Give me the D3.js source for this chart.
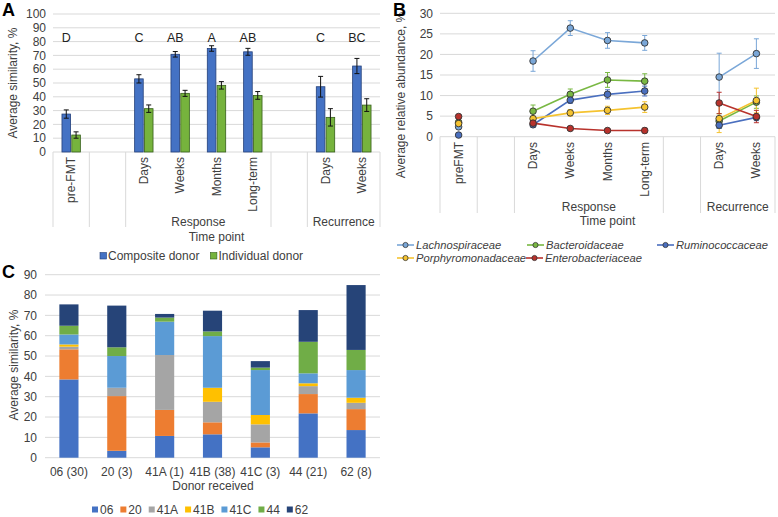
<html lang="en">
<head>
  <meta charset="UTF-8" />
  <title>Donor similarity and taxa abundance</title>
  <style>
    body { margin: 0; background: #fff; }
    text { font-family: "Liberation Sans", Arial, sans-serif; fill: #404040; }
    .grid line { stroke: #d9d9d9; stroke-width: 1; }
    .panel-tag { font-weight: bold; font-size: 18px; fill: #000; }
  </style>
</head>
<body>
  <svg width="778" height="517"></svg>

  <script src="https://d3js.org/d3.v7.min.js"></script>
  <script>
    // ---- panel A: average similarity per time point
    const slotsA = ["pre-FMT", null, "Days", "Weeks", "Months", "Long-term", null, "Days", "Weeks"];
    const groupsA = [{ label: "Response", from: 2, to: 5 }, { label: "Recurrence", from: 7, to: 8 }];
    const composite = [27.5, null, 53, 70.8, 75, 72.6, null, 47.3, 62.3];
    const compositeErr = [3, null, 3, 2, 2, 2.5, null, 7.5, 5.5];
    const individual = [12.3, null, 31.4, 42.5, 48.3, 41, null, 25.1, 34];
    const individualErr = [2.3, null, 2.7, 2.2, 2.7, 2.8, null, 6.3, 4.6];
    const lettersA = ["D", null, "C", "AB", "A", "AB", null, "C", "BC"];
    const ticksA = d3.range(0, 101, 10);

    // ---- panel B: relative abundance of taxa
    const slotsB = ["preFMT", null, "Days", "Weeks", "Months", "Long-term", null, "Days", "Weeks"];
    const taxa = ["Lachnospiraceae", "Bacteroidaceae", "Ruminococcaceae", "Porphyromonadaceae", "Enterobacteriaceae"];
    const lachno = [2.4, null, 18.4, 26.4, 23.4, 22.8, null, 14.5, 20.2];
    const lachnoErr = [0.3, null, 2.5, 1.8, 1.9, 1.8, null, 5.8, 3.6];
    const bactero = [3.5, null, 6.2, 10.3, 13.8, 13.5, null, 3.8, 8.4];
    const bacteroErr = [0.3, null, 1.5, 1.3, 1.8, 1.8, null, 1.8, 1.5];
    const rumino = [0.4, null, 2.9, 8.9, 10.3, 11.1, null, 2.8, 4.7];
    const ruminoErr = [0.2, null, 0.6, 0.8, 1.1, 1.2, null, 0.8, 0.8];
    const porphyro = [3.2, null, 4.4, 5.8, 6.4, 7.2, null, 4.4, 8.8];
    const porphyroErr = [0.4, null, 0.6, 0.8, 1.0, 1.3, null, 3.4, 3.0];
    const entero = [4.9, null, 3.3, 2.0, 1.5, 1.5, null, 8.2, 4.9];
    const enteroErr = [0.3, null, 0.3, 0.3, 0.4, 0.6, null, 2.6, 1.5];
    const ticksB = d3.range(0, 31, 5);

    // ---- panel C: stacked similarity by donor received
    const donors = ["06 (30)", "20 (3)", "41A (1)", "41B (38)", "41C (3)", "44 (21)", "62 (8)"];
    const sources = ["06", "20", "41A", "41B", "41C", "44", "62"];
    const from06 = [38.5, 3.4, 10.7, 11.5, 5.1, 21.8, 13.6];
    const from20 = [14.8, 26.9, 12.8, 5.9, 2.4, 9.5, 10.3];
    const from41A = [1.3, 4.1, 27.0, 10.1, 8.9, 3.9, 3.1];
    const from41B = [1.1, 0, 0, 6.9, 4.6, 1.4, 2.5];
    const from41C = [4.9, 15.6, 16.4, 25.4, 22.1, 4.9, 13.6];
    const from44 = [4.3, 4.3, 2.0, 2.3, 1.2, 15.5, 9.9];
    const from62 = [10.5, 20.5, 1.8, 10.2, 3.2, 15.6, 31.9];
    const ticksC = d3.range(0, 91, 10);

    const svg = d3.select("svg");

    function yGrid(g, y, ticks, x0, x1, labelX) {
      const grid = g.append("g").attr("class", "grid");
      grid.selectAll("line").data(ticks).join("line")
        .attr("x1", x0).attr("x2", x1)
        .attr("y1", d => y(d)).attr("y2", d => y(d));
      g.append("g").selectAll("text").data(ticks).join("text")
        .attr("x", labelX).attr("y", d => y(d)).attr("dy", "0.35em")
        .attr("text-anchor", "end").style("font-size", "12px")
        .text(d => d);
    }

    // multi level category axis like the spreadsheet one
    function catAxis(g, x, slots, groups, yTop, yBot, labelTop, groupY, titleY, title) {
      const bw = x.bandwidth();
      const idx = d3.range(slots.length);
      const edges = idx.filter(i => !groups.some(gr => i > gr.from && i <= gr.to)).map(i => x(i));
      edges.push(x(slots.length - 1) + bw);
      g.append("g").attr("class", "grid").selectAll("line").data(edges).join("line")
        .attr("x1", d => d).attr("x2", d => d).attr("y1", yTop).attr("y2", yBot);
      g.append("g").selectAll("text").data(idx.filter(i => slots[i])).join("text")
        .attr("transform", i => `translate(${x(i) + bw / 2 + 4},${labelTop}) rotate(-90)`)
        .attr("text-anchor", "end").style("font-size", "12px")
        .text(i => slots[i]);
      g.append("g").selectAll("text").data(groups).join("text")
        .attr("x", d => (x(d.from) + x(d.to) + bw) / 2).attr("y", groupY)
        .attr("text-anchor", "middle").style("font-size", "12px")
        .text(d => d.label);
      const r = x.range();
      g.append("text").attr("x", (r[0] + r[1]) / 2).attr("y", titleY)
        .attr("text-anchor", "middle").style("font-size", "12px").text(title);
    }

    function yTitle(g, x, y, label) {
      g.append("text").attr("transform", `translate(${x},${y}) rotate(-90)`)
        .attr("text-anchor", "middle").attr("dy", "0.35em").style("font-size", "12px")
        .text(label);
    }

    function errBars(g, pts, color, cap) {
      const eb = g.append("g").attr("stroke", color).attr("stroke-width", 1);
      pts.forEach(p => {
        eb.append("line").attr("x1", p.x).attr("x2", p.x).attr("y1", p.lo).attr("y2", p.hi);
        eb.append("line").attr("x1", p.x - cap).attr("x2", p.x + cap).attr("y1", p.lo).attr("y2", p.lo);
        eb.append("line").attr("x1", p.x - cap).attr("x2", p.x + cap).attr("y1", p.hi).attr("y2", p.hi);
      });
    }

    // ================= A
    const gA = svg.append("g");
    const xA = d3.scaleBand().domain(d3.range(slotsA.length)).range([53, 380]);
    const yA = d3.scaleLinear().domain([0, 100]).range([152, 14]);
    yGrid(gA, yA, ticksA, 53, 380, 46);
    catAxis(gA, xA, slotsA, groupsA, 152, 227, 157, 226, 241, "Time point");
    yTitle(gA, 13, 83, "Average similarity, %");

    const barW = 8.6, gapA = 1.2;
    const seriesA = [
      { name: "Composite donor", vals: composite, err: compositeErr, fill: "#4472c4", stroke: "#24407a", off: -gapA / 2 - barW },
      { name: "Individual donor", vals: individual, err: individualErr, fill: "#76b33d", stroke: "#365f1a", off: gapA / 2 }
    ];
    seriesA.forEach(s => {
      const idx = d3.range(s.vals.length).filter(i => s.vals[i] != null);
      gA.append("g").selectAll("rect").data(idx).join("rect")
        .attr("x", i => xA(i) + xA.bandwidth() / 2 + s.off)
        .attr("width", barW)
        .attr("y", i => yA(s.vals[i]))
        .attr("height", i => yA(0) - yA(s.vals[i]))
        .attr("fill", s.fill).attr("stroke", s.stroke).attr("stroke-width", 0.8);
      errBars(gA, idx.map(i => ({
        x: xA(i) + xA.bandwidth() / 2 + s.off + barW / 2,
        lo: yA(s.vals[i] - s.err[i]), hi: yA(s.vals[i] + s.err[i])
      })), "#111", 2.5);
    });
    gA.append("g").selectAll("text").data(d3.range(lettersA.length).filter(i => lettersA[i])).join("text")
      .attr("x", i => xA(i) + xA.bandwidth() / 2 + seriesA[0].off + barW / 2)
      .attr("y", 42).attr("text-anchor", "middle").style("font-size", "12.5px")
      .style("fill", "#222").text(i => lettersA[i]);

    // legend A
    let lx = 100;
    seriesA.forEach(s => {
      gA.append("rect").attr("x", lx).attr("y", 252.5).attr("width", 6.5).attr("height", 6.5)
        .attr("fill", s.fill).attr("stroke", s.stroke).attr("stroke-width", 0.6);
      const t = gA.append("text").attr("x", lx + 8).attr("y", 256).attr("dy", "0.35em")
        .style("font-size", "12px").text(s.name);
      lx += 8 + t.node().getComputedTextLength() + 11;
    });
    svg.append("text").attr("class", "panel-tag").attr("x", 2).attr("y", 16).text("A");

    // ================= B
    const gB = svg.append("g");
    const xB = d3.scaleBand().domain(d3.range(slotsB.length)).range([440, 775]);
    const yB = d3.scaleLinear().domain([0, 30]).range([136.7, 13.3]);
    yGrid(gB, yB, ticksB, 440, 775, 433);
    catAxis(gB, xB, slotsB, groupsA, 136.7, 213, 142, 211, 225, "Time point");
    yTitle(gB, 401, 95, "Average relative abundance, %");

    const seriesB = [
      { name: taxa[0], vals: lachno, err: lachnoErr, color: "#7aa7d8" },
      { name: taxa[1], vals: bactero, err: bacteroErr, color: "#79b843" },
      { name: taxa[2], vals: rumino, err: ruminoErr, color: "#4a6fbf" },
      { name: taxa[3], vals: porphyro, err: porphyroErr, color: "#f5c330" },
      { name: taxa[4], vals: entero, err: enteroErr, color: "#b8322c" }
    ];
    const cx = i => xB(i) + xB.bandwidth() / 2;
    const lineB = d3.line().defined(d => d.v != null).x(d => cx(d.i)).y(d => yB(d.v));
    seriesB.forEach(s => {
      const pts = s.vals.map((v, i) => ({ i, v }));
      const idx = d3.range(s.vals.length).filter(i => s.vals[i] != null);
      errBars(gB, idx.map(i => ({ x: cx(i), lo: yB(s.vals[i] - s.err[i]), hi: yB(s.vals[i] + s.err[i]) })), s.color, 2.5);
      gB.append("path").datum(pts).attr("d", lineB)
        .attr("fill", "none").attr("stroke", s.color).attr("stroke-width", 1.6);
    });
    seriesB.forEach(s => {
      const idx = d3.range(s.vals.length).filter(i => s.vals[i] != null);
      gB.append("g").selectAll("circle").data(idx).join("circle")
        .attr("cx", cx).attr("cy", i => yB(s.vals[i])).attr("r", 3.3)
        .attr("fill", s.color).attr("stroke", "#333").attr("stroke-width", 0.9);
    });

    // legend B
    const legPos = [[397, 245], [527, 245], [657, 245], [397, 258], [526, 258]];
    seriesB.forEach((s, k) => {
      const [px, py] = legPos[k];
      gB.append("line").attr("x1", px).attr("x2", px + 17).attr("y1", py).attr("y2", py)
        .attr("stroke", s.color).attr("stroke-width", 1.6);
      gB.append("circle").attr("cx", px + 8.5).attr("cy", py).attr("r", 2.6)
        .attr("fill", s.color).attr("stroke", "#333").attr("stroke-width", 0.8);
      gB.append("text").attr("x", px + 19).attr("y", py).attr("dy", "0.35em")
        .style("font-size", "11.2px").style("font-style", "italic").text(s.name);
    });
    svg.append("text").attr("class", "panel-tag").attr("x", 393).attr("y", 16).text("B");

    // ================= C
    const gC = svg.append("g");
    const xC = d3.scaleBand().domain(donors).range([45, 380]);
    const yC = d3.scaleLinear().domain([0, 90]).range([457.7, 274.7]);
    yGrid(gC, yC, ticksC, 45, 380, 37);
    yTitle(gC, 14, 365, "Average similarity, %");

    const colorsC = ["#4472c4", "#ed7d31", "#a5a5a5", "#ffc000", "#5b9bd5", "#70ad47", "#264478"];
    const cols = [from06, from20, from41A, from41B, from41C, from44, from62];
    const table = donors.map((d, i) => {
      const row = { donor: d };
      sources.forEach((s, k) => { row[s] = cols[k][i]; });
      return row;
    });
    const stacked = d3.stack().keys(sources)(table);
    const bwC = xC.bandwidth() * 0.4;
    gC.append("g").selectAll("g").data(stacked).join("g")
      .attr("fill", (d, k) => colorsC[k])
      .selectAll("rect").data(d => d).join("rect")
      .attr("x", d => xC(d.data.donor) + (xC.bandwidth() - bwC) / 2)
      .attr("width", bwC)
      .attr("y", d => yC(d[1]))
      .attr("height", d => yC(d[0]) - yC(d[1]));

    gC.append("g").selectAll("text").data(donors).join("text")
      .attr("x", d => xC(d) + xC.bandwidth() / 2).attr("y", 472).attr("dy", "0.35em")
      .attr("text-anchor", "middle").style("font-size", "12px").text(d => d);
    gC.append("text").attr("x", 213).attr("y", 486).attr("dy", "0.35em")
      .attr("text-anchor", "middle").style("font-size", "12px").text("Donor received");

    // legend C
    let cxl = 92;
    sources.forEach((s, k) => {
      gC.append("rect").attr("x", cxl).attr("y", 506.5).attr("width", 6).attr("height", 6).attr("fill", colorsC[k]);
      const t = gC.append("text").attr("x", cxl + 8).attr("y", 509.5).attr("dy", "0.35em")
        .style("font-size", "12px").text(s);
      cxl += 8 + t.node().getComputedTextLength() + 7;
    });
    svg.append("text").attr("class", "panel-tag").attr("x", 2).attr("y", 278).text("C");
  </script>
</body>
</html>
